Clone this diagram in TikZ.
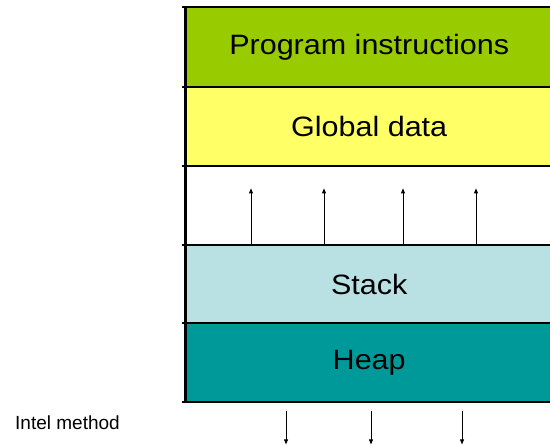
\documentclass[tikz,border=0pt]{standalone}
\usepackage{fontspec}
\setmainfont{Liberation Sans}
\usetikzlibrary{arrows.meta}
\definecolor{progcol}{HTML}{99CC00}
\definecolor{globcol}{HTML}{FFFF66}
\definecolor{stackcol}{HTML}{B9E0E3}
\definecolor{heapcol}{HTML}{009999}
\newcommand{\segtext}[1]{\raisebox{-3pt}{\scalebox{1.09}[1]{#1}}}
\tikzset{
  segment/.style={draw=none, minimum width=368pt, inner sep=0pt, anchor=north west,
    font=\fontsize{28}{32}\selectfont},
  divider/.style={line width=2pt},
  growth/.style={line width=0.8pt, -{Triangle[length=5pt,width=4pt]}},
  label/.style={font=\fontsize{19}{22}\selectfont, anchor=west, inner sep=0pt}
}
\begin{document}
\begin{tikzpicture}[x=1pt,y=1pt]
  \clip (0,0) rectangle (550,446);
  \fill[white] (0,0) rectangle (550,446);
  % memory segments, top to bottom
  \node[segment, fill=progcol,  minimum height=80pt] (prog)  at (185,439) {\segtext{Program instructions}};
  \node[segment, fill=globcol,  minimum height=79pt] (glob)  at (185,359) {\segtext{Global data}};
  \node[segment, fill=white,    minimum height=79pt] (free)  at (185,280) {};
  \node[segment, fill=stackcol, minimum height=78pt] (stack) at (185,201) {\segtext{Stack}};
  \node[segment, fill=heapcol,  minimum height=79pt] (heap)  at (185,123) {\segtext{Heap}};
  % dividing lines
  \foreach \n in {prog,glob,free,stack,heap}
    \draw[divider] ([xshift=-3pt]\n.north west) -- (\n.north east);
  \draw[divider] ([xshift=-3pt]heap.south west) -- (heap.south east);
  \draw[line width=3pt] (prog.north west) -- (heap.south west);
  % growth arrows into the free region
  \foreach \x [count=\i] in {66,139,218,291}
    \draw[growth] ([xshift=\x pt]free.south west) coordinate (up\i) -- ++(0,57);
  % arrows below the heap
  \foreach \x [count=\i] in {101,186,277}
    \draw[growth] ([xshift=\x pt, yshift=-9pt]heap.south west) coordinate (dn\i) -- ++(0,-33);
  \node[label] (intel) at (15,23) {Intel method};
\end{tikzpicture}
\end{document}
